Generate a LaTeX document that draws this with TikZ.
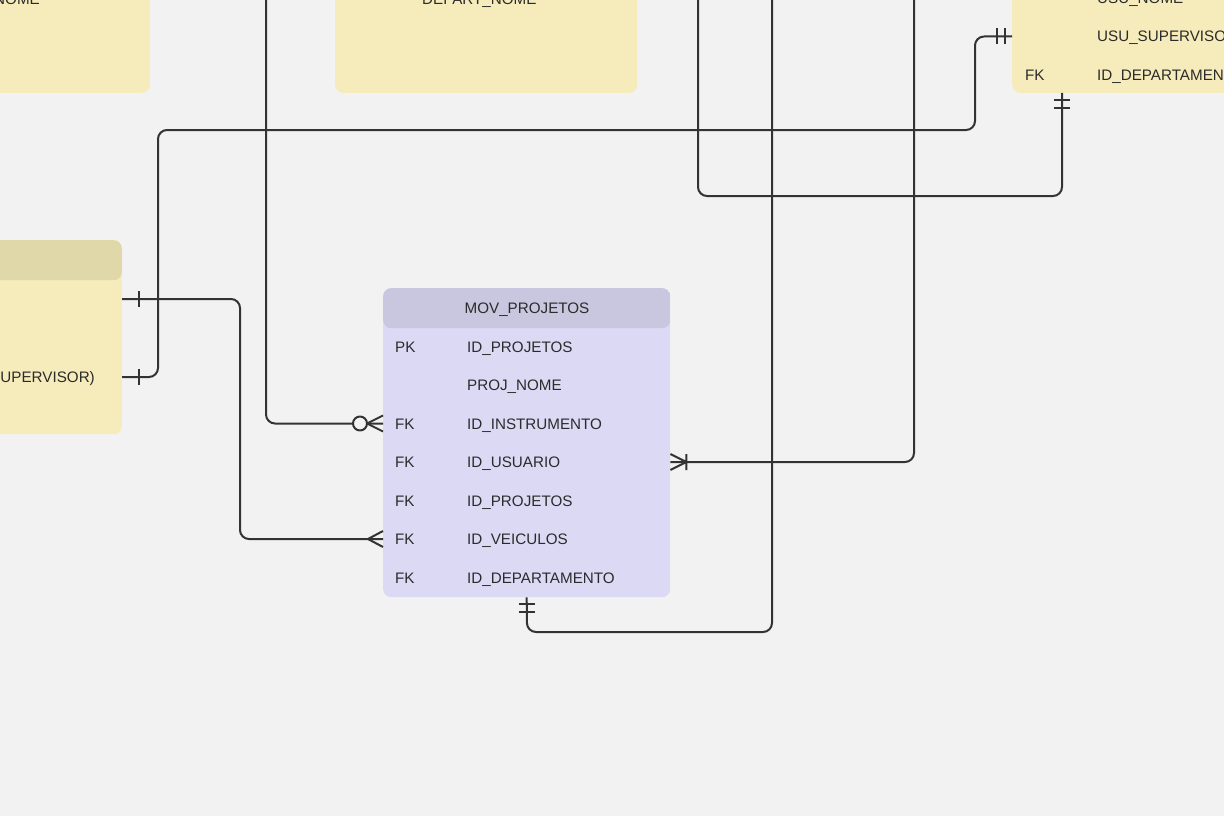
\documentclass[tikz,border=0pt]{standalone}
\usepackage{fontspec}
\setmainfont{Liberation Sans}
\definecolor{bgc}{HTML}{F2F2F2}
\definecolor{yelc}{HTML}{F6EBBA}
\definecolor{yelh}{HTML}{E1D8A9}
\definecolor{purc}{HTML}{DCD9F5}
\definecolor{purh}{HTML}{C9C6DF}
\definecolor{linec}{HTML}{333333}
\definecolor{txtc}{HTML}{2B2B2B}
\tikzset{rel/.style={draw=linec, line width=2pt, line join=round},
one/.pic={\draw[rel] (17,-8) -- (17,8);},
onlyone/.pic={\draw[rel] (7,-8) -- (7,8) (15,-8) -- (15,8);},
many/.pic={\draw[rel] (0,-8) -- (15,0) -- (0,8);},
zmany/.pic={\draw[rel] (0,-8) -- (16,0) -- (0,8); \draw[rel,fill=bgc] (23,0) circle (7);},
onemany/.pic={\draw[rel] (0,-8) -- (16,0) -- (0,8) (16,-8) -- (16,8);}}
\begin{document}
\begin{tikzpicture}[x=1pt,y=-1pt,ent/.style={rounded corners=8pt, inner sep=0pt, draw=none},yhead/.style={path picture={\fill[yelh] (path picture bounding box.north west) rectangle ([yshift=-40pt]path picture bounding box.north east);}},phead/.style={path picture={\fill[purh] (path picture bounding box.north west) rectangle ([yshift=-40pt]path picture bounding box.north east);}},attr/.style={anchor=west, inner sep=0pt, text height=11pt, text depth=0pt, text=txtc, font=\fontsize{15.2pt}{18pt}\selectfont},title/.style={attr, anchor=center}]
\useasboundingbox (0,0) rectangle (1224,816);
\clip (0,0) rectangle (1224,816);
\fill[bgc] (0,0) rectangle (1224,816);
\node[ent, fill=yelc, minimum width=300pt, minimum height=300pt, anchor=south east] (inst) at (150,93) {};
\node[ent, fill=yelc, minimum width=302pt, minimum height=300pt, anchor=south west] (dept) at (335,93) {};
\node[ent, fill=yelc, minimum width=300pt, minimum height=300pt, anchor=south west] (usu) at (1012,93) {};
\node[ent, fill=yelc, yhead, minimum width=300pt, minimum height=194pt, anchor=north east] (veic) at (122,240) {};
\node[ent, fill=purc, phead, minimum width=287pt, minimum height=309pt, anchor=north west] (mov) at (383,288) {};
\node[attr, anchor=east] (i1) at (40,-1) {NOME};
\node[attr] (d1) at (422,-1) {DEPART\_NOME};
\node[attr] (u1) at (1097,-2) {USU\_NOME};
\node[attr] (u2) at (1097,36.5) {USU\_SUPERVISOR};
\node[attr] (uk3) at (1025,75) {FK};
\node[attr] (u3) at (1097,75) {ID\_DEPARTAMENTO};
\coordinate (v1) at (0,299);
\node[attr, anchor=east] (v3) at (95,377) {(SUPERVISOR)};
\node[title] (movt) at (527,308) {MOV\_PROJETOS};
\foreach \k/\n [count=\i] in {PK/ID\_PROJETOS, /PROJ\_NOME, FK/ID\_INSTRUMENTO, FK/ID\_USUARIO, FK/ID\_PROJETOS, FK/ID\_VEICULOS, FK/ID\_DEPARTAMENTO}{
\node[attr] (mk\i) at (395,308+38.5*\i) {\k};
\node[attr] (m\i) at (467,308+38.5*\i) {\n};
}
\coordinate (t1) at (266,-20);
\coordinate (t2) at (698,-20);
\coordinate (t3) at (772,-20);
\coordinate (t4) at (914,-20);
\coordinate (b2) at (240,0);
\coordinate (b3a) at (158,130);
\coordinate (b3b) at (975,0);
\coordinate (b4) at (1062,196);
\coordinate (b5) at (527,632);
\draw[rel, rounded corners=9pt] (t1) |- (mov.west |- m3);
\draw[rel, rounded corners=9pt] (veic.east |- v1) -| (b2 |- m6) -- (mov.west |- m6);
\draw[rel, rounded corners=9pt] (veic.east |- v3) -| (b3a) -| (b3b |- u2) -- (usu.west |- u2);
\draw[rel, rounded corners=9pt] (t2) |- (b4) -- (b4 |- usu.south);
\draw[rel, rounded corners=9pt] (t3) |- (b5) -- (mov.south);
\draw[rel, rounded corners=9pt] (t4) |- (mov.east |- m4);
\pic at (veic.east |- v1) {one};
\pic at (veic.east |- v3) {one};
\pic[rotate=180] at (usu.west |- u2) {onlyone};
\pic[rotate=-90] at (b4 |- usu.south) {onlyone};
\pic[rotate=180] at (mov.west |- m3) {zmany};
\pic[rotate=180] at (mov.west |- m6) {many};
\pic at (mov.east |- m4) {onemany};
\pic[rotate=-90] at (mov.south) {onlyone};
\end{tikzpicture}
\end{document}
